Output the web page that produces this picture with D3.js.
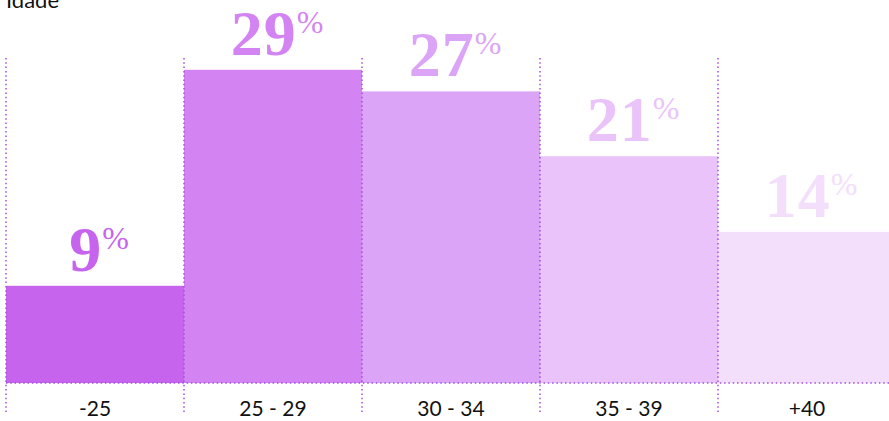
<!DOCTYPE html>
<html><head><meta charset="utf-8">
<script src="https://cdn.jsdelivr.net/npm/d3@7"></script>
<style>body{margin:0;background:#fff;overflow:hidden}</style>
</head><body>
<svg id="chart" width="889" height="421"></svg>
<script>
const categories = ["-25", "25 - 29", "30 - 34", "35 - 39", "+40"];
const values = [9, 29, 27, 21, 14];
const colors = ["#c664ee", "#d484f2", "#dca4f6", "#e9c3f9", "#f3defc"];
const title = "Idade";

const svg = d3.select("#chart");
const x = d3.scaleBand().domain(categories).range([6, 896]).padding(0);
const y = d3.scaleLinear().domain([0, 30]).range([383, 59]);

svg.append("text").attr("x", 6).attr("y", 8)
  .attr("font-family", "Lato, sans-serif").attr("font-size", 22).attr("fill", "#111")
  .text(title);

svg.selectAll("rect.bar").data(categories).enter().append("rect")
  .attr("class", "bar")
  .attr("x", d => x(d)).attr("width", x.bandwidth())
  .attr("y", (d, i) => y(values[i])).attr("height", (d, i) => y(0) - y(values[i]))
  .attr("fill", (d, i) => colors[i]);

const dotCol = "#a24ddf";
const edges = categories.map(d => x(d)).concat([x(categories[categories.length - 1]) + x.bandwidth()]);
svg.selectAll("line.v").data(edges).enter().append("line")
  .attr("x1", d => d).attr("x2", d => d)
  .attr("y1", y(30) - 1).attr("y2", 415)
  .attr("stroke", dotCol).attr("stroke-width", 1.5).attr("stroke-dasharray", "1.5,2.8");
svg.append("line").attr("x1", 6).attr("x2", 896).attr("y1", y(0)).attr("y2", y(0))
  .attr("stroke", dotCol).attr("stroke-width", 1.5).attr("stroke-dasharray", "1.5,2.8");

const lab = svg.selectAll("text.val").data(categories).enter().append("text")
  .attr("class", "val")
  .attr("x", d => x(d) + x.bandwidth() / 2 + 4)
  .attr("y", (d, i) => y(values[i]) - 15)
  .attr("text-anchor", "middle")
  .attr("fill", (d, i) => colors[i])
  .attr("font-family", "'Liberation Serif', 'DejaVu Serif', serif")
  .attr("font-weight", "bold");
lab.append("tspan").attr("font-size", 64).attr("letter-spacing", 1).text((d, i) => values[i]);
lab.append("tspan").attr("font-size", 32).attr("font-weight", "normal").attr("dy", -22).text("%");

svg.selectAll("text.cat").data(categories).enter().append("text")
  .attr("class", "cat")
  .attr("x", d => x(d) + x.bandwidth() / 2)
  .attr("y", 416)
  .attr("text-anchor", "middle")
  .attr("font-family", "Lato, sans-serif").attr("font-size", 21).attr("fill", "#111")
  .text(d => d);
</script>
</body></html>
